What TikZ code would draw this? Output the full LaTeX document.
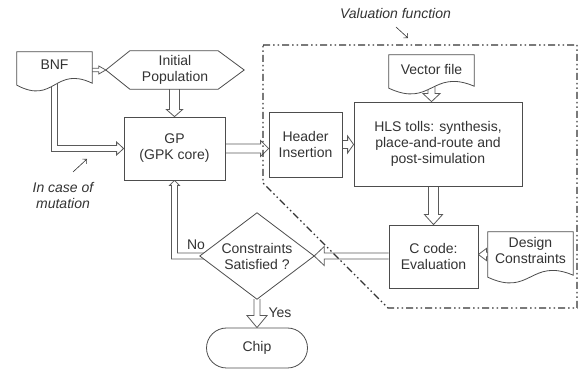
\documentclass[tikz,border=0pt]{standalone}
\usepackage{fontspec}
\setmainfont{Liberation Sans}
\usetikzlibrary{calc,arrows.meta}
\pgfdeclarelayer{back}
\pgfsetlayers{back,main}
\definecolor{tx}{HTML}{333333}
\definecolor{ln}{HTML}{4D4D4D}
\definecolor{ar}{HTML}{5A5A5A}
\newcommand\harr[5]{%
  \draw[arrline] let \p1=(#1), \p2=(#2), \n1={atan2(\y2-\y1,\x2-\x1)}, \n2={veclen(\x2-\x1,\y2-\y1)} in
  [shift={(\p2)}, rotate=\n1] (-\n2,#3) -- (-#5,#3) -- (-#5,#4) -- (0,0) -- (-#5,-#4) -- (-#5,-#3) -- (-\n2,-#3);}
\newcommand\docpath[1]{%
  \draw[shapeline] (#1.south west) -- (#1.north west) -- (#1.north east) -- ($(#1.south east)+(0,-2)$)
  .. controls ($(#1.south)+(0,-20)$) and ($(#1.south)+(0,20)$) .. (#1.south west) -- cycle;}
\begin{document}
\begin{tikzpicture}[x=1pt,y=-1pt,
  font=\fontsize{14}{16}\selectfont,
  every node/.style={text=tx, inner sep=0pt, align=center},
  boxnode/.style={draw=ln, line width=0.8pt, fill=white},
  shapeline/.style={draw=ln, line width=0.8pt, fill=white},
  arrline/.style={draw=ar, line width=0.8pt, line join=miter},
  frame/.style={draw=black!80, line width=1.3pt, dash pattern=on 7pt off 3pt on 1.5pt off 3pt on 1.5pt off 3pt},
  pointer/.style={draw=black!80, line width=0.6pt, -{Straight Barb[length=3pt,width=6pt]}},
  lbl/.style={font=\fontsize{14}{16}\selectfont\itshape}]
\useasboundingbox (0,0) rectangle (579,371);

\node[minimum width=75pt, minimum height=33pt] (bnf) at (54.5,68.5) {};
\node (bnft) at ($(bnf.center)+(0,-4)$) {BNF};
\node[minimum width=138pt, minimum height=38pt] (ip) at (175,70) {Initial\\Population};
\node[minimum width=85pt, minimum height=33pt] (vec) at (431.5,71.5) {};
\node (vect) at ($(vec.center)+(0,-2)$) {Vector file};
\node[boxnode, minimum width=73pt, minimum height=65pt] (hdr) at (305.5,144.5) {Header\\Insertion};
\node[boxnode, minimum width=168pt, minimum height=84pt] (hls) at (438,144) {HLS tolls: synthesis,\\place-and-route and\\post-simulation};
\node[boxnode, minimum width=101pt, minimum height=63pt] (gp) at (174.5,148.5) {GP\\(GPK core)};
\node[boxnode, minimum width=89pt, minimum height=63pt] (cc) at (433.5,256.5) {C code:\\Evaluation};
\node[minimum width=85pt, minimum height=45pt] (dc) at (530.5,254.5) {};
\node (dct) at ($(dc.center)+(0,-4)$) {Design\\Constraints};
\node[minimum width=114pt, minimum height=86pt] (dia) at (257,256) {Constraints\\Satisfied ?};
\node[boxnode, rounded corners=20pt, minimum width=101pt, minimum height=40pt] (chip) at (257,348) {Chip};
\node[lbl] (vf) at (395.5,13) {Valuation function};
\node[lbl] (mut) at (63,195) {In case of\\mutation};
\node (no) at (196,245) {No};
\node (yes) at (280,313) {Yes};

\coordinate (p1s) at (396,27);
\coordinate (p1e) at (408,38);
\draw[pointer] (p1s) -- (p1e);
\coordinate (p2s) at (73,172);
\coordinate (p2e) at (87,159);
\draw[pointer] (p2s) -- (p2e);

\begin{pgfonlayer}{back}
\harr{bnf.center |- ip.west}{ip.west}{1.8}{4}{7}
\harr{gp.north |- ip.south}{gp.north}{5}{8}{7}
\harr{gp.east}{gp.east -| hdr.west}{4.5}{8}{8}
\harr{hdr.east}{hdr.east -| hls.west}{4}{8.5}{6}
\harr{vec.center}{vec.center |- hls.north}{3.5}{8.5}{8}
\harr{cc.north |- hls.south}{cc.north}{5}{9}{10}
\harr{dc.center}{dc.center -| cc.east}{2.2}{6}{8}
\harr{dia.east -| cc.west}{dia.east}{3}{9.5}{10}
\harr{dia.south}{chip.north}{3}{10}{12}
\draw[arrline] ($(bnf.center)+(-3,0)$) |- ($(gp.west)+(-7,3)$) -- ++(0,3.5) -- (gp.west)
  -- ($(gp.west)+(-7,-6.5)$) -- ++(0,3.5) -| ($(bnf.center)+(3,0)$);
\draw[arrline] ($(dia.west)+(8,3)$) -| ($(gp.south)+(-3,5)$) -- ++(-2,0) -- (gp.south)
  -- ($(gp.south)+(5,5)$) -- ++(-2,0) |- ($(dia.west)+(8,-3)$);
\draw[frame] (263,45) -- (577,45) -- (577,308) -- (388,308) -- (263,183) -- cycle;
\docpath{bnf}
\docpath{vec}
\docpath{dc}
\draw[shapeline] (ip.west) -- ($(ip.north west)+(24,0)$) -- ($(ip.north east)+(-26,0)$) -- (ip.east)
  -- ($(ip.south east)+(-26,0)$) -- ($(ip.south west)+(24,0)$) -- cycle;
\draw[shapeline] (dia.west) -- (dia.north) -- (dia.east) -- (dia.south) -- cycle;
\end{pgfonlayer}
\end{tikzpicture}
\end{document}
